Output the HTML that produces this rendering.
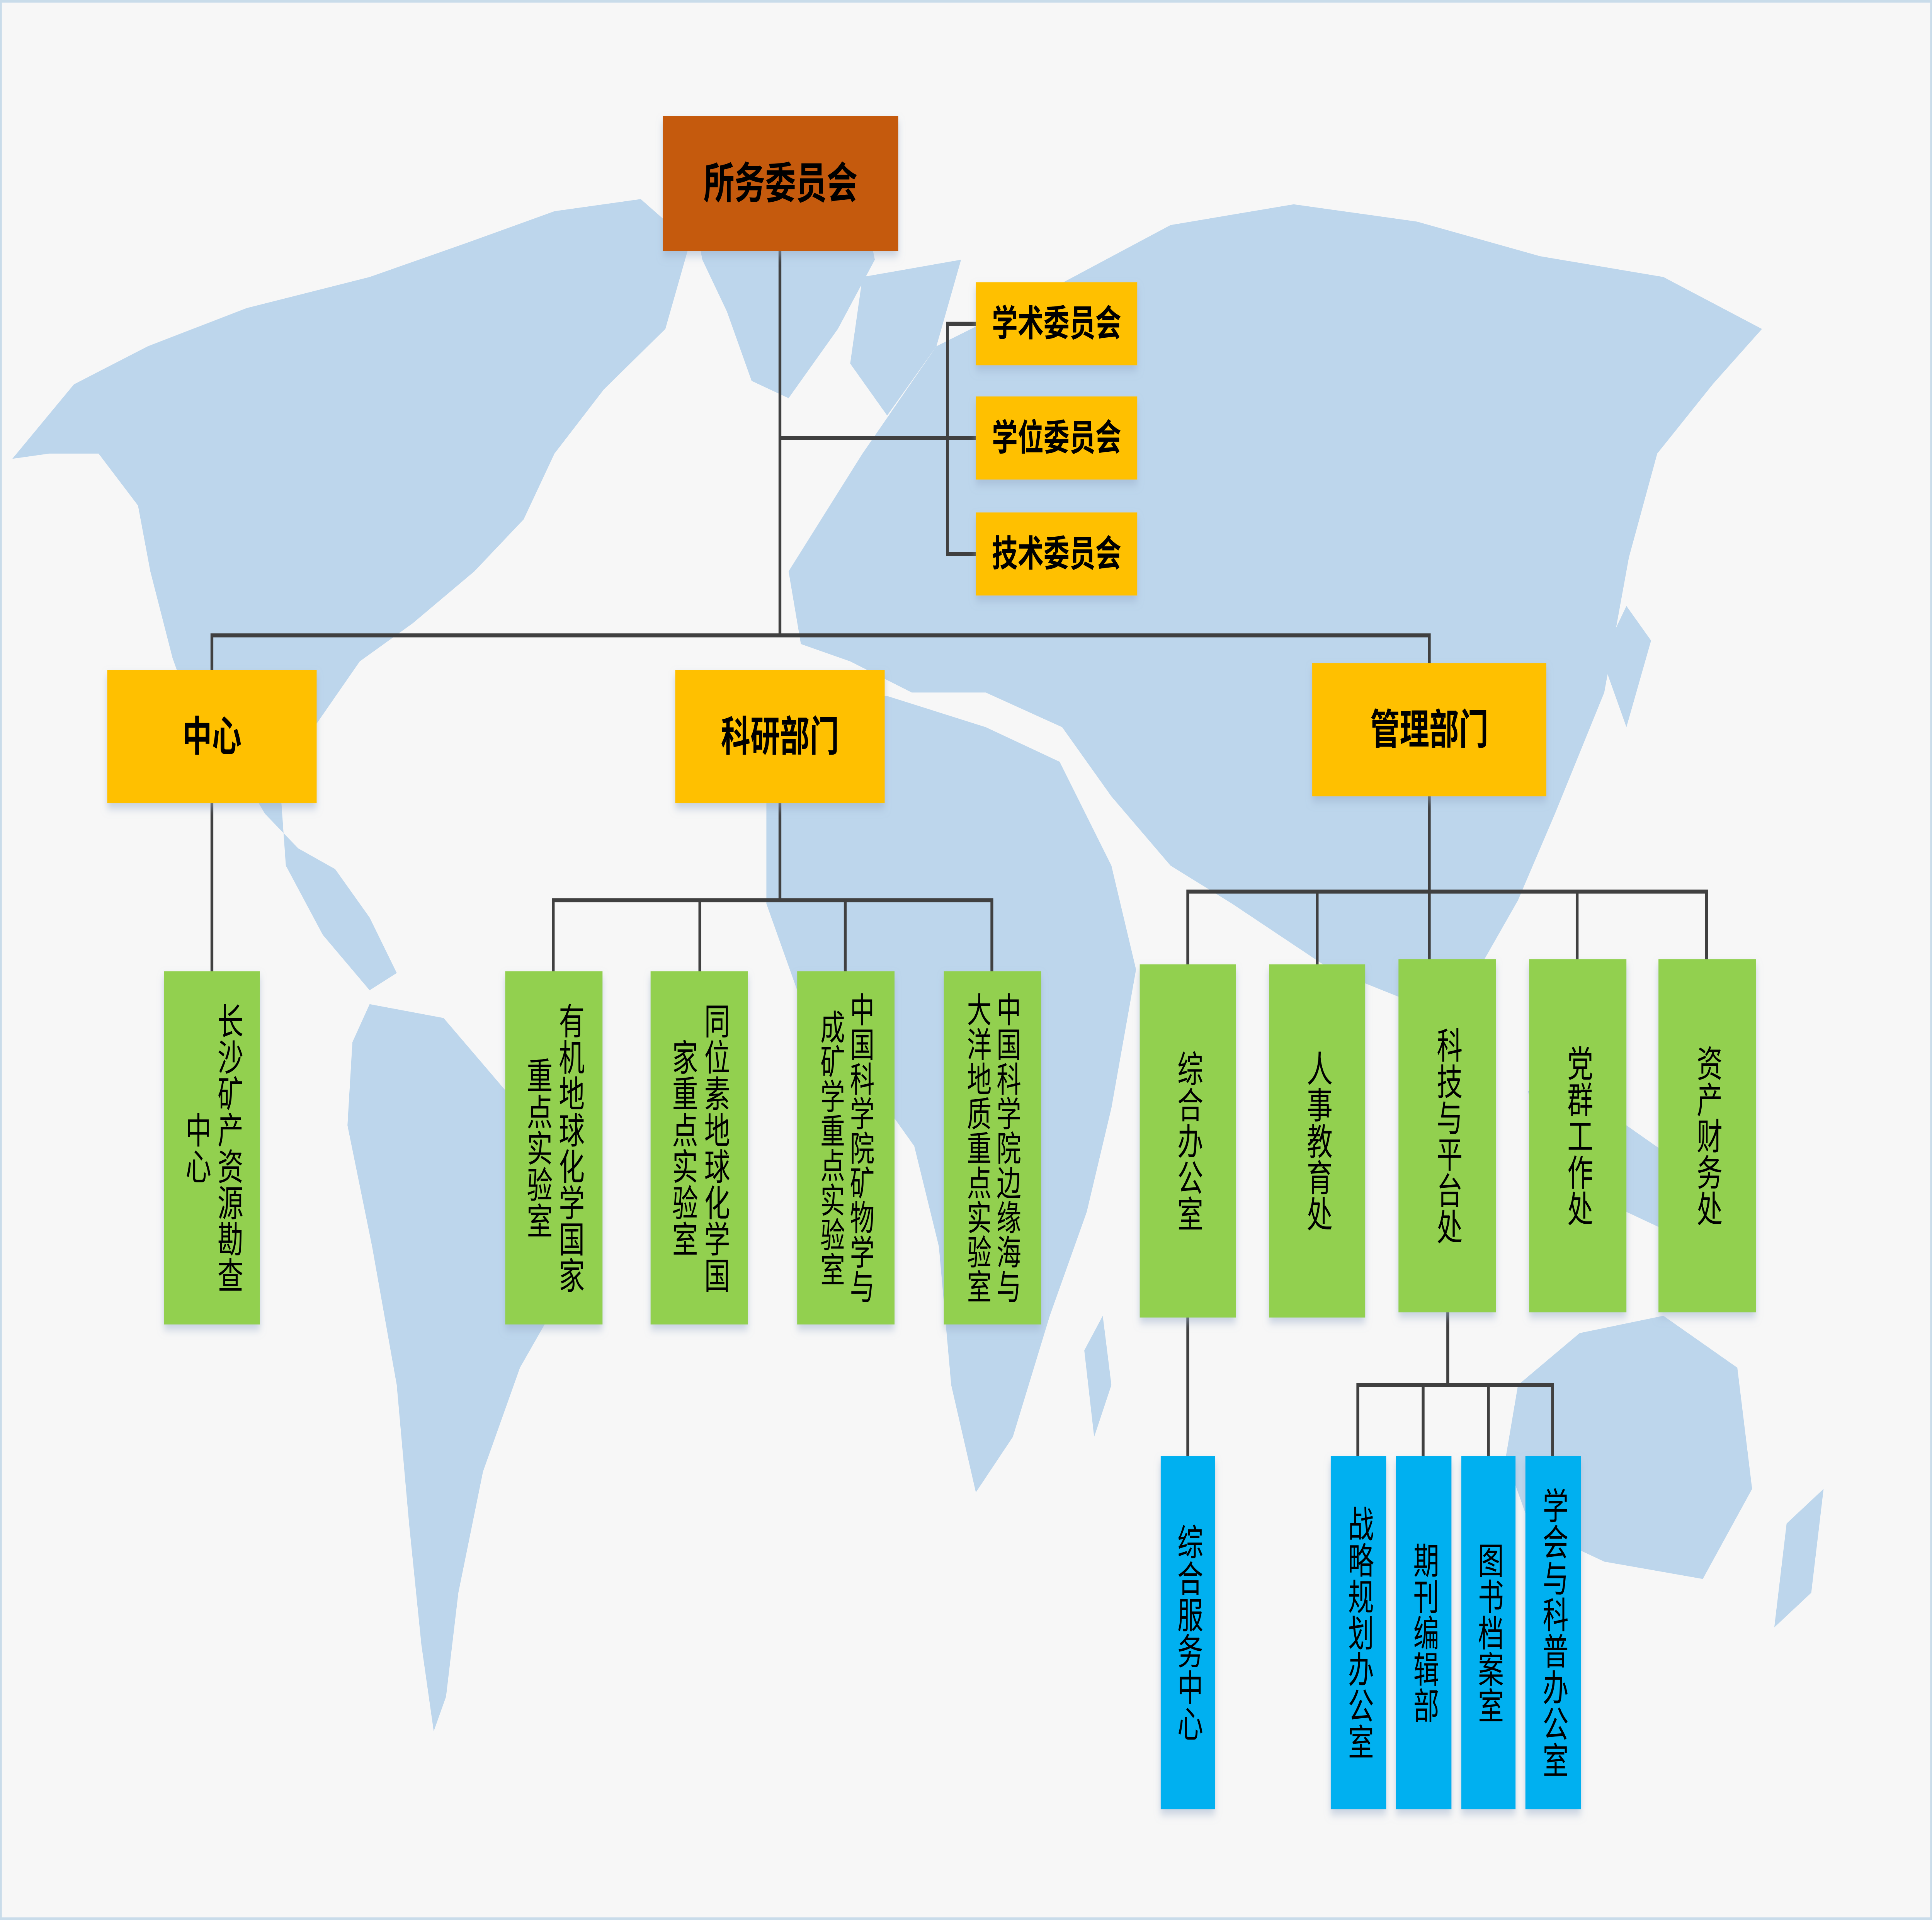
<!DOCTYPE html>
<html><head><meta charset="utf-8">
<style>
html,body{margin:0;padding:0;width:100vw;height:100vh;overflow:hidden;background:#f7f7f7;}
svg{position:absolute;left:0;top:0;width:100vw;height:100vh;display:block;}
text{font-family:"Liberation Sans","Noto Sans CJK SC",sans-serif;fill:#000;}
.hb{font-weight:bold;text-anchor:middle;dominant-baseline:central;}
.vt{writing-mode:vertical-rl;text-anchor:middle;font-size:21px;}
.vs{font-size:20px;}
</style></head><body>
<svg viewBox="0 0 1568 1109" preserveAspectRatio="none">
<defs>
<filter id="sh" x="-20%" y="-20%" width="140%" height="150%"><feDropShadow dx="0" dy="3" stdDeviation="2.5" flood-color="#96aac8" flood-opacity="0.5"/></filter>
</defs>
<rect x="0.5" y="0.5" width="1567" height="1108" fill="#f7f7f7" stroke="#c9dcea" stroke-width="2"/>
<g fill="#BDD6EC">
<path d="M10,265 L60,222 L120,200 L200,178 L300,160 L380,140 L450,122 L520,115 L560,140 L540,190 L490,225 L450,262 L425,300 L385,330 L335,360 L292,382 L255,420 L228,460 L232,500 L262,540 L300,572 L322,562 L300,530 L272,502 L242,490 L215,470 L190,440 L160,420 L140,380 L122,330 L112,292 L80,262 L40,262 Z"/>
<path d="M560,112 L640,105 L700,115 L710,150 L680,190 L640,230 L610,220 L590,180 L570,150 Z"/>
<path d="M300,580 L360,588 L420,638 L470,680 L462,740 L422,790 L392,850 L372,920 L362,980 L352,1000 L342,950 L332,880 L322,800 L302,720 L282,650 L286,602 Z"/>
<path d="M640,330 L700,262 L760,200 L850,168 L950,130 L1050,118 L1150,128 L1250,148 L1350,160 L1430,190 L1390,222 L1345,262 L1322,322 L1302,400 L1262,470 L1232,520 L1200,560 L1150,580 L1080,560 L1000,522 L950,500 L902,460 L862,420 L800,400 L740,400 L690,382 L650,372 Z"/>
<path d="M640,400 L720,402 L800,420 L860,440 L902,500 L922,560 L902,640 L882,700 L852,760 L822,830 L792,862 L772,800 L762,720 L742,662 L702,622 L652,582 L622,522 L622,452 Z"/>
<path d="M1232,800 L1282,770 L1350,760 L1410,790 L1422,860 L1382,912 L1302,902 L1242,882 L1222,842 Z"/>
<path d="M1240,630 L1300,640 L1360,670 L1400,700 L1380,720 L1320,700 L1260,680 Z"/>
<path d="M880,780 L895,760 L902,800 L888,830 Z"/>
<path d="M1300,380 L1320,350 L1340,370 L1320,420 Z"/>
<path d="M1450,880 L1480,860 L1470,920 L1440,940 Z"/>
<path d="M700,160 L780,150 L760,200 L720,240 L690,210 Z"/>
</g>
<g stroke="#404040" stroke-width="2.3" fill="none" stroke-linecap="square">
<path d="M633,145 V367 M633,253 H792 M792,187 H769 V320 H792"/>
<path d="M172,387 V367 H1160 V383"/>
<path d="M172,464 V561"/>
<path d="M633,464 V520 M449,561 V520 H805 V561 M568,520 V561 M686,520 V561"/>
<path d="M1160,460 V515 M964,557 V515 H1385 V554 M1069,515 V557 M1160,515 V554 M1280,515 V554"/>
<path d="M964,761 V841"/>
<path d="M1175,758 V800 M1102,841 V800 H1260 V841 M1155,800 V841 M1208,800 V841"/>
</g>
<g filter="url(#sh)">
<rect x="538" y="67" width="191" height="78" fill="#C55A11"/>
<rect x="792" y="163" width="131" height="48" fill="#FFC000"/>
<rect x="792" y="229" width="131" height="48" fill="#FFC000"/>
<rect x="792" y="296" width="131" height="48" fill="#FFC000"/>
<rect x="87" y="387" width="170" height="77" fill="#FFC000"/>
<rect x="548" y="387" width="170" height="77" fill="#FFC000"/>
<rect x="1065" y="383" width="190" height="77" fill="#FFC000"/>
<rect x="133" y="561" width="78" height="204" fill="#92D050"/>
<rect x="410" y="561" width="79" height="204" fill="#92D050"/>
<rect x="528" y="561" width="79" height="204" fill="#92D050"/>
<rect x="647" y="561" width="79" height="204" fill="#92D050"/>
<rect x="766" y="561" width="79" height="204" fill="#92D050"/>
<rect x="925" y="557" width="78" height="204" fill="#92D050"/>
<rect x="1030" y="557" width="78" height="204" fill="#92D050"/>
<rect x="1135" y="554" width="79" height="204" fill="#92D050"/>
<rect x="1241" y="554" width="79" height="204" fill="#92D050"/>
<rect x="1346" y="554" width="79" height="204" fill="#92D050"/>
<rect x="942" y="841" width="44" height="204" fill="#00B0F0"/>
<rect x="1080" y="841" width="45" height="204" fill="#00B0F0"/>
<rect x="1133" y="841" width="45" height="204" fill="#00B0F0"/>
<rect x="1186" y="841" width="44" height="204" fill="#00B0F0"/>
<rect x="1238" y="841" width="45" height="204" fill="#00B0F0"/>
</g>
<text class="hb" x="633.5" y="106" font-size="25">所务委员会</text>
<text class="hb" x="857.5" y="187" font-size="21">学术委员会</text>
<text class="hb" x="857.5" y="253" font-size="21">学位委员会</text>
<text class="hb" x="857.5" y="320" font-size="21">技术委员会</text>
<text class="hb" x="172" y="425.5" font-size="24">中心</text>
<text class="hb" x="633" y="425.5" font-size="24">科研部门</text>
<text class="hb" x="1160" y="421.5" font-size="24">管理部门</text>

<text class="vt" x="185" y="663">长沙矿产资源勘查</text>
<text class="vt" x="159" y="663">中心</text>
<text class="vt" x="462" y="663">有机地球化学国家</text>
<text class="vt" x="436" y="663">重点实验室</text>
<text class="vt" x="580" y="663">同位素地球化学国</text>
<text class="vt" x="554" y="663">家重点实验室</text>
<text class="vt vs" x="698" y="663">中国科学院矿物学与</text>
<text class="vt vs" x="674" y="663">成矿学重点实验室</text>
<text class="vt vs" x="817" y="663">中国科学院边缘海与</text>
<text class="vt vs" x="793" y="663">大洋地质重点实验室</text>

<text class="vt" x="964" y="659">综合办公室</text>
<text class="vt" x="1069" y="659">人事教育处</text>
<text class="vt" x="1174.5" y="656">科技与平台处</text>
<text class="vt" x="1280.5" y="656">党群工作处</text>
<text class="vt" x="1385.5" y="656">资产财务处</text>

<text class="vt" x="964" y="943">综合服务中心</text>
<text class="vt" x="1102.5" y="943">战略规划办公室</text>
<text class="vt" x="1155.5" y="943">期刊编辑部</text>
<text class="vt" x="1208" y="943">图书档案室</text>
<text class="vt" x="1260.5" y="943">学会与科普办公室</text>
</svg>
</body></html>
